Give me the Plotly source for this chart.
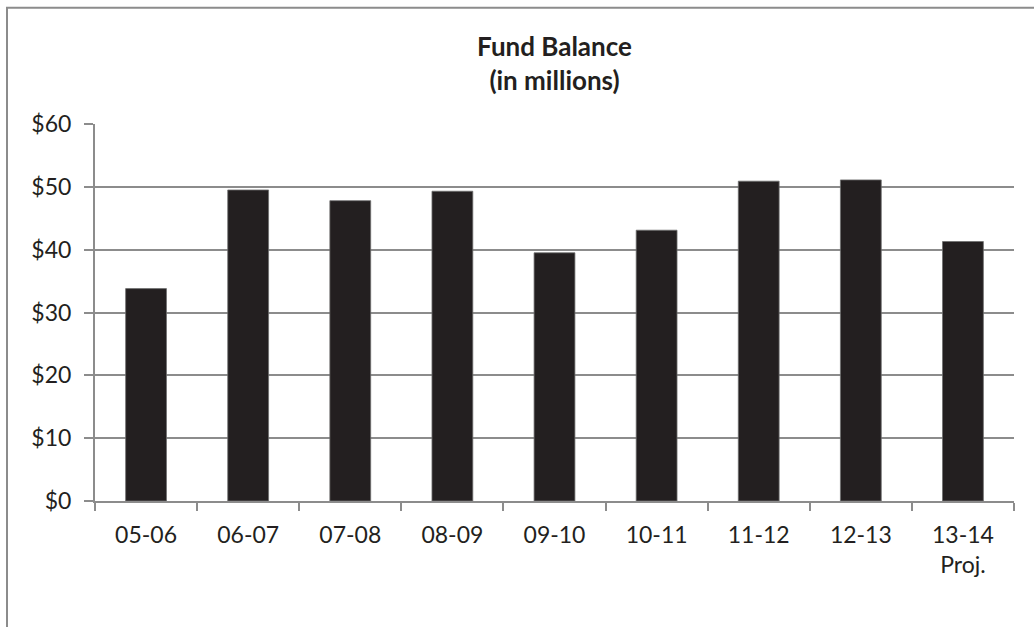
import plotly.graph_objects as go

categories = ["05-06", "06-07", "07-08", "08-09", "09-10", "10-11", "11-12", "12-13", "13-14<br>Proj."]
fund_balance = [33.8, 49.5, 47.8, 49.3, 39.5, 43.1, 50.9, 51.1, 41.3]
y_ticks = [0, 10, 20, 30, 40, 50, 60]
y_tick_labels = ["$0", "$10", "$20", "$30", "$40", "$50", "$60"]

W, H = 1034, 627
L, R, T, B = 95, 20, 123.5, 126
pw, ph = W - L - R, H - T - B

def px_x(x):
    return (x - L) / pw

def px_y(y):
    return (H - B - y) / ph

font_family = "Lato, 'Open Sans', sans-serif"
grid_col = "#8c8c8c"

fig = go.Figure()
fig.add_trace(go.Bar(
    x=categories, y=fund_balance,
    marker=dict(color="#231f20", line=dict(color="#6e6e6e", width=0.8)),
    width=0.4, hoverinfo="x+y",
))

fig.update_layout(
    width=W, height=H,
    margin=dict(l=L, r=R, t=T, b=B),
    paper_bgcolor="white", plot_bgcolor="white",
    showlegend=False,
    font=dict(family=font_family, size=23, color="#231f20"),
    title=dict(
        text="<b>Fund Balance<br>(in millions)</b>",
        x=0.5 * (L + W - R) / W, xanchor="center",
        y=1 - 56 / H, yanchor="middle",
        font=dict(family=font_family, size=26, color="#231f20"),
    ),
    xaxis=dict(
        type="category",
        showline=True, linecolor=grid_col, linewidth=2,
        ticks="outside", ticklen=8, tickwidth=2, tickcolor=grid_col,
        tickson="boundaries",
        showgrid=False,
        tickfont=dict(size=23),
        ticklabelstandoff=12,
        range=[-0.5, len(categories) - 0.5],
    ),
    yaxis=dict(
        range=[0, 60],
        tickvals=y_ticks, ticktext=y_tick_labels,
        showline=True, linecolor=grid_col, linewidth=2,
        ticks="outside", ticklen=9, tickwidth=2, tickcolor=grid_col,
        showgrid=True, gridcolor=grid_col, gridwidth=2,
        zeroline=False,
        ticklabelstandoff=8,
        tickfont=dict(size=23),
    ),
)

# outer chart border (top and left visible; right/bottom lie beyond the crop)
fig.add_shape(
    type="rect", xref="paper", yref="paper",
    x0=px_x(7), x1=px_x(W + 20), y0=px_y(H + 20), y1=px_y(7),
    line=dict(color=grid_col, width=2), fillcolor="rgba(0,0,0,0)",
    layer="below",
)

fig.write_html("out.html")
